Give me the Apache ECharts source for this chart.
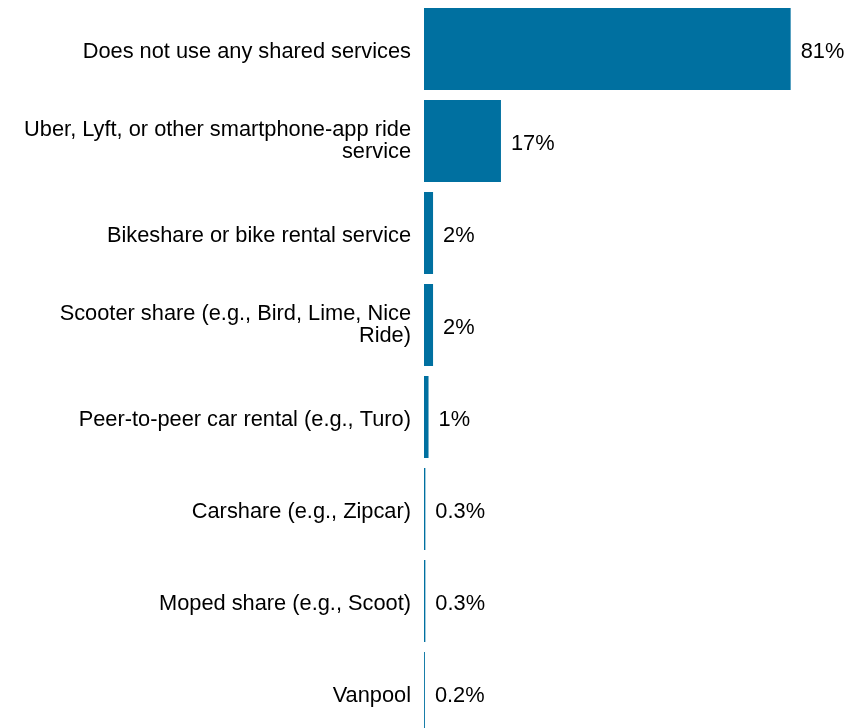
<!DOCTYPE html>
<html>
<head>
<meta charset="utf-8">
<script src="https://cdn.jsdelivr.net/npm/echarts@6/dist/echarts.min.js"></script>
<style>
html,body{margin:0;padding:0;background:#fff;}
#chart{width:849px;height:728px;}
</style>
</head>
<body>
<div id="chart"></div>
<script>
const categories = [
  "Does not use any shared services",
  "Uber, Lyft, or other smartphone-app ride\nservice",
  "Bikeshare or bike rental service",
  "Scooter share (e.g., Bird, Lime, Nice\nRide)",
  "Peer-to-peer car rental (e.g., Turo)",
  "Carshare (e.g., Zipcar)",
  "Moped share (e.g., Scoot)",
  "Vanpool"
];
const values = [81, 17, 2, 2, 1, 0.3, 0.3, 0.2];

const FONT = 'Liberation Sans, Arial, sans-serif';
const chart = echarts.init(document.getElementById('chart'), null, {renderer: 'canvas'});
chart.setOption({
  animation: false,
  backgroundColor: '#ffffff',
  grid: {left: 424, top: 3, width: 407.4, height: 736, containLabel: false, outerBoundsMode: 'none'},
  xAxis: {
    type: 'value', min: 0, max: 90, show: false
  },
  yAxis: {
    type: 'category',
    data: categories,
    inverse: true,
    axisLine: {show: false},
    axisTick: {show: false},
    axisLabel: {
      margin: 13,
      color: '#000000',
      fontFamily: FONT,
      fontSize: 21.8,
      lineHeight: 21.5,
      align: 'right',
      formatter: function (v) {
        const lines = v.split('\n');
        if (lines.length === 1) return '{s|' + v + '}';
        return lines.join('\n');
      },
      rich: {
        s: {fontFamily: FONT, fontSize: 21.8, color: '#000000', padding: [5, 0, 0, 0]}
      }
    }
  },
  series: [{
    type: 'bar',
    data: values,
    barWidth: 82,
    itemStyle: {color: '#0070A0'},
    label: {
      show: true,
      position: 'right',
      distance: 10,
      offset: [0, 2.5],
      formatter: '{c}%',
      color: '#000000',
      fontFamily: FONT,
      fontSize: 21.8
    }
  }]
});
</script>
</body>
</html>
